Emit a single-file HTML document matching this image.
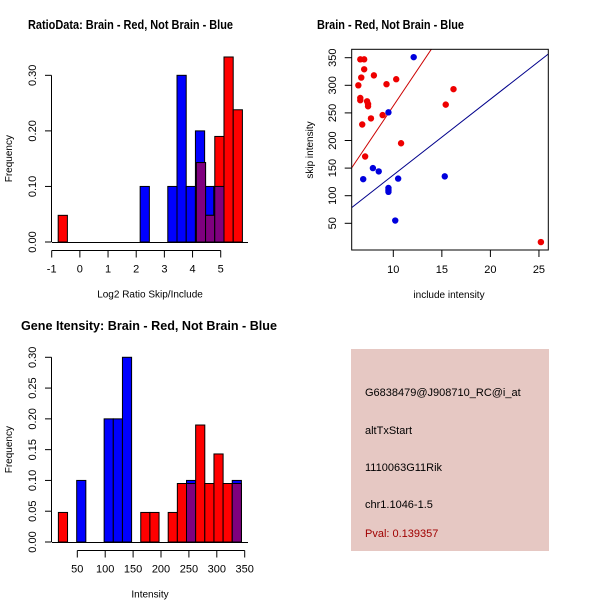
<!DOCTYPE html>
<html><head><meta charset="utf-8"><style>
html,body{margin:0;padding:0;background:#fff}
svg{display:block;font-family:"Liberation Sans",sans-serif}
</style></head><body>
<svg id="svg" width="600" height="600" viewBox="0 0 600 600" xmlns="http://www.w3.org/2000/svg">
<rect width="600" height="600" fill="#fff"/>
<text x="28" y="29" font-size="12.5" font-weight="bold" textLength="205" lengthAdjust="spacingAndGlyphs">RatioData: Brain - Red, Not Brain - Blue</text>
<text x="317" y="29" font-size="12.5" font-weight="bold" textLength="147" lengthAdjust="spacingAndGlyphs">Brain - Red, Not Brain - Blue</text>
<text x="21" y="330" font-size="12.5" font-weight="bold" textLength="256" lengthAdjust="spacingAndGlyphs">Gene Itensity: Brain - Red, Not Brain - Blue</text>
<g id="g1"></g>
<g id="g2"></g>
<g id="g3"></g>
<g>
<rect x="351" y="349" width="198" height="202" fill="#e6c8c3"/>
<text x="365" y="396" font-size="11">G6838479@J908710_RC@i_at</text>
<text x="365" y="434" font-size="11">altTxStart</text>
<text x="365" y="471" font-size="11">1110063G11Rik</text>
<text x="365" y="508" font-size="11">chr1.1046-1.5</text>
<text x="365" y="537" font-size="11" fill="#a00000">Pval: 0.139357</text>
</g>
</svg>
<script>
// Ratio histogram data
const ratioRedStart = -0.77, ratioBlueStart = 2.14, ratioStep = 0.327;
const ratioRed = [0.048,0,0,0,0,0,0,0,0,0,0,0,0,0,0,0.143,0.048,0.19,0.333,0.238];
const ratioBlue = [0.1,0,0,0.1,0.3,0.1,0.2,0.1,0.1];
const ratioXTicks = [-1,0,1,2,3,4,5];
const ratioYTicks = ["0.00","0.10","0.20","0.30"];
// Scatter data
const redX = [6.6,7.0,7.0,6.7,8.0,6.4,9.3,10.3,6.6,6.6,7.3,7.4,7.4,7.7,8.9,6.8,10.8,7.1,15.4,16.2,25.2];
const redY = [347,347,329,314,318,300,302,311,277,273,271,266,262,240,246,229,195,171,265,293,16];
const blueX = [12.1,9.5,7.9,8.5,6.9,10.5,9.5,9.5,9.5,15.3,10.2];
const blueY = [351,251,150,144,130,131,114,110,107,135,55];
const redLine = [0.7,26.2];
const blueLine = [0,13.74];
const scXTicks = [10,15,20,25];
const scYTicks = [50,100,150,200,250,300,350];
// Intensity histogram data
const intStart = 16.1, intStep = 16.4;
const intRed = [0.048,0,0,0,0,0,0,0,0,0.048,0.048,0,0.048,0.095,0.095,0.19,0.095,0.143,0.095,0.095];
const intBlue = [0,0,0.1,0,0,0.2,0.2,0.3,0,0,0,0,0,0,0.1,0,0,0,0,0.1];
const intXTicks = [50,100,150,200,250,300,350];
const intYTicks = ["0.00","0.05","0.10","0.15","0.20","0.25","0.30"];

const NS="http://www.w3.org/2000/svg";
function mk(parent,tag,attrs,text){const e=document.createElementNS(NS,tag);for(const k in attrs)e.setAttribute(k,attrs[k]);if(text!==undefined)e.textContent=text;parent.appendChild(e);return e;}

function hist(g,sx,sy,redStart,redStep,red,blueStart,blueStep,blue,xt,yt,yMax,xTitle,axY){
  blue.forEach((v,i)=>{if(v<=0)return;
    const r=mk(g,'rect',{x:sx(blueStart+i*blueStep),y:sy(v),width:sx(blueStart+(i+1)*blueStep)-sx(blueStart+i*blueStep),height:sy(0)-sy(v),fill:'#0000ff',stroke:'#000','stroke-width':1});
    
    });
  red.forEach((v,i)=>{if(v<=0)return;
    const a=redStart+i*redStep,b=a+redStep;
    const r=mk(g,'rect',{x:sx(a),y:sy(v),width:sx(b)-sx(a),height:sy(0)-sy(v),fill:'#ff0000',stroke:'#000','stroke-width':1});
    
    
    const c=(a+redStep/2-blueStart)/blueStep;const j=Math.floor(c);
    if(j>=0&&j<blue.length&&blue[j]>0){const m=Math.min(v,blue[j]);
      const p=mk(g,'rect',{x:sx(a),y:sy(m),width:sx(b)-sx(a),height:sy(0)-sy(m),fill:'#7f007f',stroke:'#000','stroke-width':1});
      
      }
  });
  mk(g,'line',{x1:52,x2:248,y1:sy(0)+0.5,y2:sy(0)+0.5,stroke:'#000'});
  const ya=mk(g,'line',{x1:51.5,x2:51.5,y1:sy(0),y2:sy(yMax),stroke:'#000'});
  
  
  yt.forEach(t=>{const y=sy(parseFloat(t));mk(g,'line',{x1:45,x2:51.5,y1:y,y2:y,stroke:'#000'});
    const tx=mk(g,'text',{x:33,y:y,'font-size':11,'text-anchor':'middle',transform:`rotate(-90 33 ${y})`,'dominant-baseline':'middle'},t);
    
    });
  const xa=mk(g,'line',{x1:sx(xt[0]),x2:sx(xt[xt.length-1]),y1:axY,y2:axY,stroke:'#000'});
  
  
  xt.forEach(t=>{const x=sx(t);mk(g,'line',{x1:x,x2:x,y1:axY,y2:axY+7,stroke:'#000'});
    const tx=mk(g,'text',{x:x,y:axY+22,'font-size':11,'text-anchor':'middle'},String(t));
    
    });
  const yl=mk(g,'text',{x:12,y:(sy(0)+sy(yMax))/2,'font-size':10,'text-anchor':'middle',transform:`rotate(-90 12 ${(sy(0)+sy(yMax))/2})`},'Frequency');
  
  
  const xl=mk(g,'text',{x:150,y:axY+47,'font-size':10,'text-anchor':'middle'},xTitle);
  
  
}

{const g=document.getElementById('g1');
 const sx=v=>51.7+(v+1)*28.17, sy=v=>242-v*555.6;
 hist(g,sx,sy,ratioRedStart,ratioStep,ratioRed,ratioBlueStart,ratioStep,ratioBlue,ratioXTicks,ratioYTicks,0.3,'Log2 Ratio Skip/Include',250.5);}
{const g=document.getElementById('g3');
 const sx=v=>77.3+(v-50)*0.558, sy=v=>542-v*615.7;
 hist(g,sx,sy,intStart,intStep,intRed,intStart,intStep,intBlue,intXTicks,intYTicks,0.3,'Intensity',550.5);}
{const g=document.getElementById('g2');
 const L=351.7,R=548.3,T=49.3,B=250;
 const sx=v=>393.3+(v-10)*9.71, sy=v=>57.7+(350-v)*0.552;
 const cp=mk(g,'clipPath',{id:'clipsc'});
 mk(cp,'rect',{x:L,y:T,width:R-L,height:B-T});
 const lg=mk(g,'g',{'clip-path':'url(#clipsc)'});
 [[redLine,'#cc0000','red-fit-line'],[blueLine,'#00008b','blue-fit-line']].forEach(([c,col,n])=>{
   const xa=5,xb=27;
   const l=mk(lg,'line',{x1:sx(xa),y1:sy(c[0]+c[1]*xa),x2:sx(xb),y2:sy(c[0]+c[1]*xb),stroke:col,'stroke-width':1});
   
   });
 redX.forEach((x,i)=>{const c=mk(g,'circle',{cx:sx(x),cy:sy(redY[i]),r:3.2,fill:'#ee0000'});
   
   });
 blueX.forEach((x,i)=>{const c=mk(g,'circle',{cx:sx(x),cy:sy(blueY[i]),r:3.2,fill:'#0000dd'});
   
   });
 const box=mk(g,'rect',{x:L,y:T,width:R-L,height:B-T,fill:'none',stroke:'#000'});
 
 
 scXTicks.forEach(t=>{const x=sx(t);mk(g,'line',{x1:x,x2:x,y1:B,y2:B+7,stroke:'#000'});
   const tx=mk(g,'text',{x:x,y:B+23,'font-size':11,'text-anchor':'middle'},String(t));
   
   });
 scYTicks.forEach(t=>{const y=sy(t);mk(g,'line',{x1:L-7,x2:L,y1:y,y2:y,stroke:'#000'});
   const tx=mk(g,'text',{x:333,y:y,'font-size':11,'text-anchor':'middle','dominant-baseline':'middle',transform:`rotate(-90 333 ${y})`},String(t));
   
   });
 const xl=mk(g,'text',{x:449,y:298,'font-size':10,'text-anchor':'middle'},'include intensity');
 
 
 const yl=mk(g,'text',{x:313,y:150,'font-size':10,'text-anchor':'middle',transform:'rotate(-90 313 150)'},'skip intensity');
 
 }
</script>
</body></html>
